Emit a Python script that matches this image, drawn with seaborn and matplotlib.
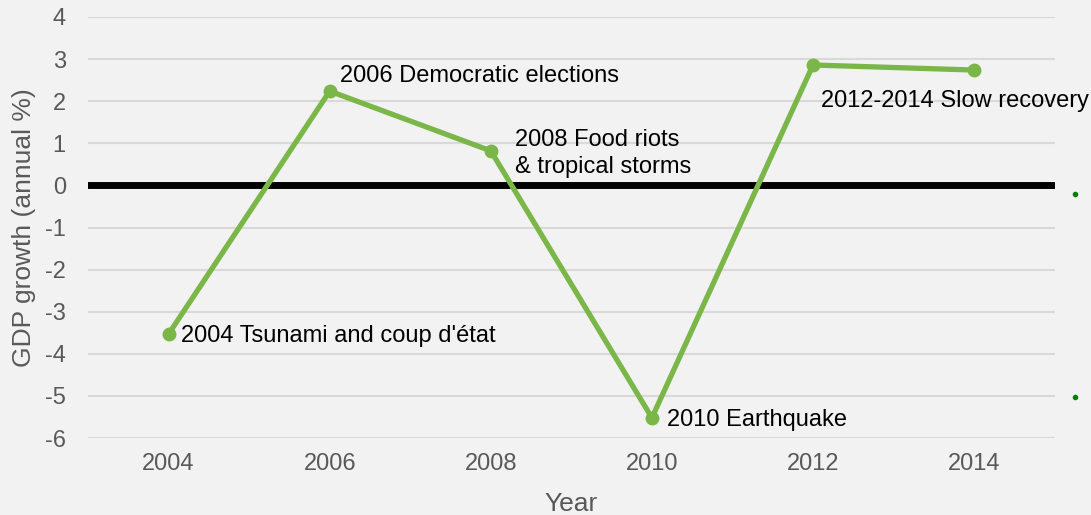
import matplotlib
matplotlib.use("Agg")
import matplotlib.pyplot as plt
import seaborn as sns
import pandas as pd

years = [2004, 2006, 2008, 2010, 2012, 2014]
gdp_growth = [-3.53, 2.24, 0.82, -5.52, 2.86, 2.74]
event_years = [2004, 2006, 2008, 2010, 2012]
event_labels = ["2004 Tsunami and coup d'état", "2006 Democratic elections",
                "2008 Food riots\n& tropical storms", "2010 Earthquake",
                "2012-2014 Slow recovery"]
y_ticks = [-6, -5, -4, -3, -2, -1, 0, 1, 2, 3, 4]
y_tick_labels = ["-6", "-5", "-4", "-3", "-2", "-1", "0", "1", "2", "3", "4"]

sns.set_theme(style="white")
plt.rcParams['font.family'] = ['Liberation Sans', 'DejaVu Sans']

bg = '#f2f2f2'
fig = plt.figure(figsize=(10.91, 5.15), dpi=100, facecolor=bg)
ax = fig.add_axes([0.0807, 0.1495, 0.886, 0.8175], facecolor=bg)

df = pd.DataFrame({"Year": years, "GDP": gdp_growth})

for t in y_ticks:
    if t != 0:
        ax.axhline(t, color='#d9d9d9', lw=1.5, zorder=0)
ax.axhline(0, color='black', lw=5, zorder=1)

sns.lineplot(data=df, x="Year", y="GDP", ax=ax, color='#7ab648', lw=3.8,
             marker='o', markersize=10, markeredgewidth=0, zorder=3)

offsets = [(12, -2), (10, 15), (24, -3), (15, -2), (8, -36)]
val = dict(zip(years, gdp_growth))
for yr, lab, off in zip(event_years, event_labels, offsets):
    ax.annotate(lab, xy=(yr, val[yr]), xytext=off, textcoords='offset pixels',
                ha='left', va='center', fontsize=17, color='black',
                linespacing=1.28, zorder=4)

# small stray legend dots at the right edge
ax.plot([2015.25, 2015.25], [-0.2, -5.02], 'o', color='#008000', ms=3,
        clip_on=False, zorder=5)

ax.set_xlim(2003, 2015)
ax.set_ylim(-6, 4)
ax.set_xticks(years)
ax.set_yticks(y_ticks)
ax.set_yticklabels(y_tick_labels)
ax.tick_params(axis='x', length=0, labelsize=17, colors='#595959', pad=11)
ax.tick_params(axis='y', length=0, labelsize=17, colors='#595959', pad=16)
ax.set_xlabel("Year", fontsize=19, color='#595959', labelpad=12)
ax.set_ylabel("GDP growth (annual %)", fontsize=19, color='#595959', labelpad=6)
for s in ax.spines.values():
    s.set_visible(False)

fig.savefig("out.png", dpi=100, facecolor=bg)
